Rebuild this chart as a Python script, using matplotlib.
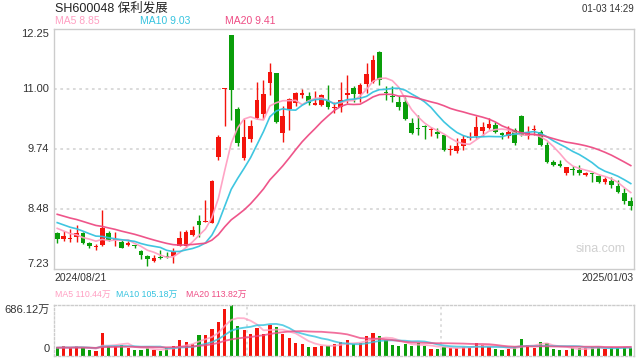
import matplotlib
matplotlib.use('Agg')
import matplotlib.pyplot as plt
import numpy as np
import pandas as pd

plt.rcParams['font.family'] = ['Liberation Sans', 'Noto Sans CJK SC', 'DejaVu Sans']

title = 'SH600048 保利发展'
timestamp = '01-03 14:29'
start_label = '2024/08/21'
end_label = '2025/01/03'
watermark = 'sina.com'

opens = [7.98, 7.86, 7.86, 7.90, 7.98, 7.78, 7.68, 7.72, 7.99, 7.83,
         7.79, 7.74, 7.73, 7.60, 7.50, 7.40, 7.48, 7.49, 7.50, 7.71,
         7.71, 7.95, 8.23, 8.22, 8.20, 9.58, 11.00, 12.13, 10.58, 9.56,
         9.96, 10.39, 10.48, 11.14, 11.34, 10.08, 10.58, 10.71, 10.89, 10.86,
         10.68, 10.66, 10.76, 10.61, 10.62, 10.89, 11.02, 10.90, 11.11, 11.16,
         11.78, 10.94, 10.85, 10.74, 10.74, 10.29, 10.18, 10.21, 10.14, 10.11,
         10.04, 9.73, 9.71, 9.81, 9.98, 10.01, 10.13, 10.19, 10.25, 10.06,
         10.01, 10.15, 10.44, 10.01, 10.14, 10.11, 9.83, 9.48, 9.44, 9.24,
         9.31, 9.31, 9.21, 9.23, 9.17, 9.05, 9.08, 8.97, 8.82, 8.65]
highs = [8.01, 8.03, 8.06, 8.16, 8.01, 7.80, 7.75, 8.47, 8.03, 8.00,
         7.84, 7.82, 7.74, 7.63, 7.52, 7.52, 7.63, 7.59, 7.66, 8.03,
         8.05, 8.12, 8.35, 8.68, 9.10, 10.05, 11.03, 12.14, 10.62, 10.38,
         10.36, 11.15, 11.20, 11.56, 11.35, 10.65, 10.82, 10.94, 11.01, 10.95,
         10.97, 10.90, 11.08, 10.74, 11.16, 11.31, 11.06, 11.13, 11.56, 11.72,
         11.81, 11.06, 11.06, 10.86, 10.84, 10.39, 10.46, 10.25, 10.20, 10.18,
         10.05, 9.83, 9.97, 10.04, 10.11, 10.43, 10.32, 10.39, 10.32, 10.11,
         10.23, 10.18, 10.46, 10.23, 10.25, 10.15, 9.90, 9.52, 9.52, 9.37,
         9.39, 9.41, 9.27, 9.25, 9.20, 9.15, 9.15, 9.10, 8.92, 8.74]
lows = [7.78, 7.81, 7.79, 7.80, 7.76, 7.67, 7.62, 7.70, 7.81, 7.70,
        7.66, 7.71, 7.66, 7.44, 7.29, 7.37, 7.43, 7.45, 7.36, 7.70,
        7.68, 7.92, 7.89, 8.22, 8.19, 9.52, 10.23, 10.36, 9.80, 9.52,
        9.90, 10.37, 10.38, 10.88, 10.29, 9.90, 10.15, 10.65, 10.81, 10.67,
        10.67, 10.65, 10.58, 10.51, 10.53, 10.71, 10.74, 10.74, 10.92, 11.13,
        11.09, 10.78, 10.74, 10.56, 10.35, 10.07, 10.04, 9.95, 10.01, 9.97,
        9.71, 9.62, 9.67, 9.73, 9.94, 9.98, 10.01, 10.16, 10.08, 9.96,
        9.98, 9.83, 10.01, 9.95, 10.04, 9.80, 9.45, 9.38, 9.36, 9.20,
        9.20, 9.20, 9.17, 9.05, 9.03, 9.02, 8.92, 8.83, 8.60, 8.47]
closes = [7.86, 7.92, 7.88, 7.99, 7.78, 7.70, 7.70, 8.08, 7.84, 7.85,
          7.67, 7.76, 7.70, 7.53, 7.44, 7.46, 7.46, 7.47, 7.59, 7.87,
          8.00, 8.05, 8.16, 8.24, 9.08, 10.00, 11.02, 10.99, 9.88, 9.99,
          10.23, 10.78, 10.90, 11.36, 10.32, 10.44, 10.79, 10.93, 10.91, 10.72,
          10.69, 10.87, 10.62, 10.62, 10.78, 10.90, 10.90, 11.10, 11.32, 11.62,
          11.20, 10.93, 10.84, 10.62, 10.38, 10.09, 10.17, 10.20, 10.15, 10.06,
          9.73, 9.74, 9.81, 9.95, 9.99, 10.20, 10.20, 10.27, 10.11, 10.05,
          10.11, 9.88, 10.04, 10.11, 10.15, 9.83, 9.48, 9.41, 9.39, 9.36,
          9.30, 9.24, 9.22, 9.22, 9.06, 9.11, 8.99, 8.85, 8.66, 8.55]
# volume in 万
volumes = [120, 129, 97, 129, 97, 75, 61, 310, 129, 129,
           143, 106, 75, 75, 106, 75, 66, 97, 129, 211,
           179, 156, 279, 279, 360, 460, 632, 686.12, 401, 351,
           292, 378, 292, 414, 383, 292, 242, 174, 156, 120,
           120, 134, 134, 156, 179, 211, 152, 174, 265, 301,
           265, 211, 143, 129, 156, 129, 174, 129, 88, 88,
           120, 106, 97, 120, 106, 174, 143, 120, 88, 75,
           88, 120, 224, 143, 106, 188, 165, 88, 75, 75,
           97, 97, 97, 120, 120, 88, 120, 106, 120, 106]
# closes / volumes before the window (only feed the moving averages)
prior_closes = [8.70, 8.66, 8.62, 8.60, 8.55, 8.52, 8.50, 8.48, 8.45, 8.42,
                8.40, 8.36, 8.32, 8.28, 8.24, 8.20, 8.15, 8.12, 8.07]
prior_volumes = [110, 95, 120, 100, 90, 105, 115, 98, 102, 108,
                 96, 112, 104, 99, 107, 118, 101, 95, 110]

price_ticks = [12.25, 11.00, 9.74, 8.48, 7.23]
price_ylim = (7.22, 12.26)
vol_top_label = '686.12万'
vol_top = 686.12
ma_periods = [5, 10, 20]
ma_colors = ['#ff9fc2', '#35c3df', '#ee4c84']
ma_labels = ['MA5 8.85', 'MA10 9.03', 'MA20 9.41']
vol_ma_labels = ['MA5 110.44万', 'MA10 105.18万', 'MA20 113.82万']

UP = '#f4140c'
DOWN = '#0a9e0a'
TXT = '#333333'
GRID = '#d8d8d8'
BORDER = '#cccccc'

n = len(closes)
x = np.arange(n)
o = np.array(opens); h = np.array(highs); l = np.array(lows); c = np.array(closes)
up = c >= o
colors = np.where(up, UP, DOWN)

fig = plt.figure(figsize=(6.4, 3.6), dpi=100)
W, H = 640.0, 360.0
L, R = 54, 634
ax = fig.add_axes([L / W, 1 - 269.3 / H, (R - L) / W, 240 / H])
axv = fig.add_axes([L / W, 1 - 355.5 / H, (R - L) / W, 50.5 / H])

# price panel
ax.set_xlim(-0.5, n - 0.5)
ax.set_ylim(*price_ylim)
for t in price_ticks[1:-1]:
    ax.axhline(t, color=GRID, lw=1.3, ls=(0, (1.5, 2)), zorder=0)
ax.vlines(x, l, h, colors=colors, lw=1.0, zorder=2)
body_b = np.minimum(o, c)
body_h = np.maximum(np.abs(c - o), 0.022)
ax.bar(x, body_h, bottom=body_b, width=0.72, color=colors, edgecolor='none', zorder=3)

allc = pd.Series(list(prior_closes) + list(closes))
for p, col in zip(ma_periods, ma_colors):
    ma = allc.rolling(p).mean().values[-n:]
    ax.plot(x, ma, color=col, lw=1.2, zorder=4, alpha=0.95)

ax.set_xticks([]); ax.set_yticks([])
for s in ax.spines.values():
    s.set_color(BORDER); s.set_linewidth(1.0)

# price labels
ax.text(-0.008, 1.0, f'{price_ticks[0]:.2f}', transform=ax.transAxes, ha='right', va='top', fontsize=8, color=TXT)
ax.text(-0.008, 0.0, f'{price_ticks[-1]:.2f}', transform=ax.transAxes, ha='right', va='bottom', fontsize=8, color=TXT)
for t in price_ticks[1:-1]:
    ax.text(-0.008, t, f'{t:.2f}', transform=ax.get_yaxis_transform(), ha='right', va='center', fontsize=8, color=TXT)

fig.text(55 / W, 1 - 8 / H, title, ha='left', va='center', fontsize=9, color='#222222')
fig.text(634 / W, 1 - 9 / H, timestamp, ha='right', va='center', fontsize=7, color=TXT)
for xpos, txt, col in zip([55, 140, 225], ma_labels, ma_colors):
    fig.text(xpos / W, 1 - 21.5 / H, txt, ha='left', va='center', fontsize=7.5, color=col)
fig.text(54 / W, 1 - 278 / H, start_label, ha='left', va='center', fontsize=7.5, color=TXT)
fig.text(634 / W, 1 - 278 / H, end_label, ha='right', va='center', fontsize=7.5, color=TXT)
ax.text(0.985, 0.085, watermark, transform=ax.transAxes, ha='right', va='center', fontsize=9, color='#d0d0d0')

# volume panel
v = np.array(volumes, dtype=float)
axv.set_xlim(-0.5, n - 0.5)
axv.set_ylim(0, vol_top)
axv.bar(x, v, width=0.5, color=colors, edgecolor='none', zorder=2)
allv = pd.Series(list(prior_volumes) + list(volumes))
for p, col in zip(ma_periods, ma_colors):
    ma = allv.rolling(p).mean().values[-n:]
    axv.plot(x, ma, color=col, lw=1.3, zorder=3, alpha=0.8)
xl = axv.get_xlim()
for frac in (1 / 3, 2 / 3):
    axv.axvline(xl[0] + (xl[1] - xl[0]) * frac, color=GRID, lw=1.2, ls=(0, (1.5, 2)), zorder=0)
axv.set_xticks([]); axv.set_yticks([])
for k, s in axv.spines.items():
    s.set_color(BORDER); s.set_linewidth(1.0)
    if k in ('top', 'bottom', 'left'):
        s.set_linestyle((0, (1.5, 1.5)))
axv.text(-0.008, 1.0, vol_top_label, transform=axv.transAxes, ha='right', va='top', fontsize=8, color=TXT)
axv.text(-0.008, 0.02, '0', transform=axv.transAxes, ha='right', va='bottom', fontsize=8, color=TXT)
for xpos, txt, col in zip([55, 116, 186], vol_ma_labels, ma_colors):
    fig.text(xpos / W, 1 - 294 / H, txt, ha='left', va='center', fontsize=6.3, color=col)

fig.savefig('out.png', dpi=100)
